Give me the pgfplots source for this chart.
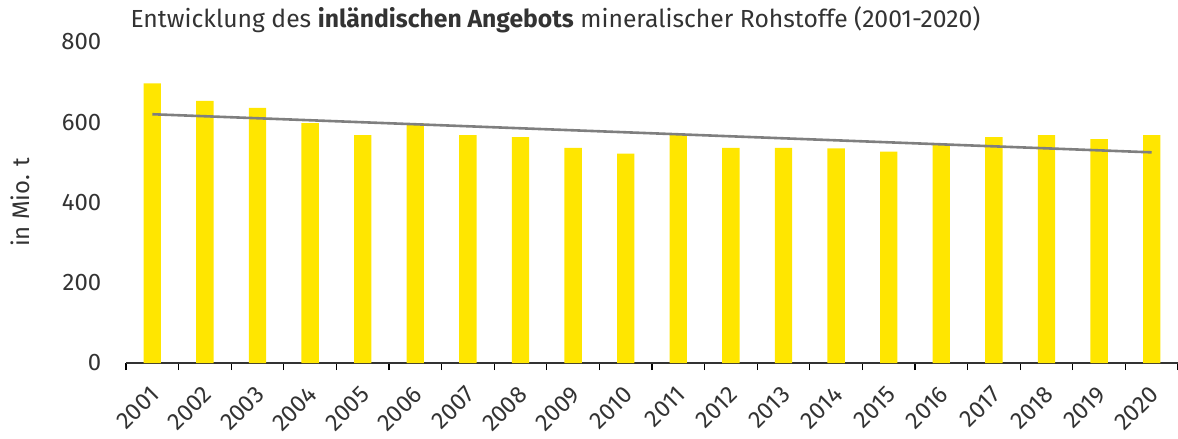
\documentclass[border=0pt]{standalone}
\usepackage{pgfplots}
\pgfplotsset{compat=1.18}
\usepackage{fontspec}
\setmainfont{Fira Sans}
\definecolor{eyyellow}{HTML}{FFE600}
\definecolor{txt}{HTML}{333333}
\definecolor{trend}{HTML}{7F7F7F}
\begin{document}
\begin{tikzpicture}
\useasboundingbox (-126bp,-76bp) rectangle (1052bp,363bp);
\begin{axis}[
  at={(0,0)}, anchor=south west,
  scale only axis,
  width=1052bp, height=321bp,
  xmin=-0.5, xmax=19.5,
  ymin=0, ymax=800,
  axis x line=bottom, axis y line=left,
  x axis line style={-, draw=txt, line width=1.2bp},
  y axis line style={draw=none},
  ytick={0,200,400,600,800},
  xtick={0,...,19},
  xticklabels={2001,2002,2003,2004,2005,2006,2007,2008,2009,2010,2011,2012,2013,2014,2015,2016,2017,2018,2019,2020},
  major tick style={draw=none},
  minor xtick={-0.5,0.5,...,19.5},
  minor tick length=7bp,
  tick align=outside,
  minor tick style={draw=black, line width=1.2bp},
  tick label style={font=\fontsize{24}{28}\selectfont, text=txt},
  /pgf/number format/assume math mode=true,
  yticklabel style={anchor=east, xshift=-17bp},
  xticklabel style={xshift=5bp, yshift=-21bp, rotate=45, anchor=east},
  ylabel={in Mio. t},
  ylabel style={font=\fontsize{24}{28}\selectfont, text=txt, at={(axis description cs:-0.0885,0.5)}, anchor=south},
  title={Entwicklung des \textbf{inländischen Angebots} mineralischer Rohstoffe (2001-2020)},
  title style={at={(0,1)}, anchor=base west, yshift=9bp, xshift=1bp, font=\fontsize{24.8}{29}\selectfont, text=txt},
  clip=false,
]
\addplot[ybar, bar width=0.33, fill=eyyellow, draw=none] coordinates {
(0,697) (1,653) (2,636) (3,598) (4,568) (5,598) (6,568) (7,563) (8,536) (9,522)
(10,569) (11,536) (12,536) (13,535) (14,527) (15,547) (16,563) (17,568) (18,558) (19,568)
};
\addplot[trend, line width=2.6bp, no markers] coordinates {(0,620) (19,525)};
\end{axis}
\end{tikzpicture}
\end{document}
